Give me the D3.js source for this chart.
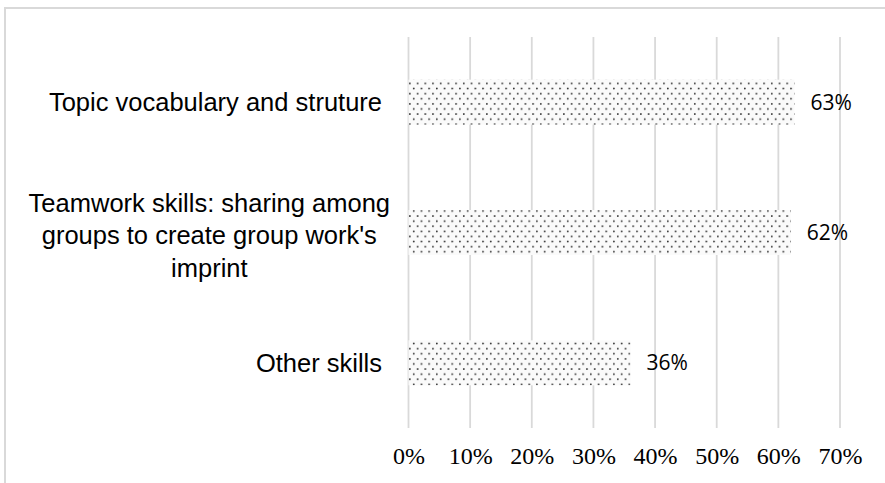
<!DOCTYPE html>
<html><head><meta charset="utf-8">
<script src="https://cdn.jsdelivr.net/npm/d3@7"></script>
<style>html,body{margin:0;padding:0;background:#fff;}svg{display:block;}</style>
</head><body>
<svg id="chart" width="885" height="483"></svg>
<script>
const categories = ["Topic vocabulary and struture", "Teamwork skills: sharing among groups to create group work's imprint", "Other skills"];
const categoryLines = [["Topic vocabulary and struture"], ["Teamwork skills: sharing among", "groups to create group work's", "imprint"], ["Other skills"]];
const values = [0.626, 0.62, 0.36];
const tickValues = [0, 0.1, 0.2, 0.3, 0.4, 0.5, 0.6, 0.7];

const svg = d3.select("#chart");
const W = 885, H = 483;
const m = {left: 408.5, right: 45, top: 37, bottom: 55};

// outer frame
svg.append("rect").attr("x", 5).attr("y", 8).attr("width", W + 20).attr("height", H + 20)
  .attr("fill", "none").attr("stroke", "#d9d9d9").attr("stroke-width", 2);

// pattern
const defs = svg.append("defs");
const pat = defs.append("pattern").attr("id", "dots").attr("patternUnits", "userSpaceOnUse")
  .attr("width", 7.7).attr("height", 10.2);
pat.append("rect").attr("width", 7.7).attr("height", 10.2).attr("fill", "#fafafa");
pat.append("circle").attr("cx", 1.8).attr("cy", 1.8).attr("r", 0.9).attr("fill", "#2e2e2e");
pat.append("circle").attr("cx", 5.65).attr("cy", 6.9).attr("r", 0.9).attr("fill", "#2e2e2e");

const x = d3.scaleLinear().domain([0, 0.7]).range([m.left, W - m.right]);
const y = d3.scaleBand().domain(categories).range([m.top, H - m.bottom]).paddingInner(0.655).paddingOuter(0.3275);

// gridlines
svg.append("g").selectAll("line").data(tickValues).join("line")
  .attr("x1", d => x(d)).attr("x2", d => x(d))
  .attr("y1", m.top).attr("y2", H - m.bottom)
  .attr("stroke", "#d9d9d9").attr("stroke-width", 1.8);

// bars
svg.append("g").selectAll("rect").data(values).join("rect")
  .attr("x", x(0)).attr("y", (d, i) => y(categories[i]))
  .attr("width", d => x(d) - x(0)).attr("height", y.bandwidth())
  .attr("fill", "url(#dots)");

// data labels
svg.append("g").selectAll("text").data(values).join("text")
  .attr("x", d => x(d) + 16).attr("y", (d, i) => y(categories[i]) + y.bandwidth() / 2)
  .attr("dy", "0.36em")
  .attr("font-family", "'Open Sans', sans-serif").attr("font-size", 21).attr("fill", "#000")
  .text(d => d3.format(".0%")(d));

// x axis tick labels
const xAxis = d3.axisBottom(x).tickValues(tickValues).tickFormat(d3.format(".0%")).tickSize(0).tickPadding(0);
const gx = svg.append("g").attr("transform", `translate(0,${H - m.bottom})`).call(xAxis);
gx.select(".domain").remove();
gx.selectAll("text").attr("font-family", "'Liberation Serif', 'Times New Roman', serif")
  .attr("font-size", 24).attr("fill", "#000").attr("y", 0).attr("dy", "36");

// category labels
const catFont = 25.5, lineH = 32.5;
const gc = svg.append("g").attr("font-family", "'Liberation Sans', Arial, sans-serif").attr("font-size", catFont).attr("fill", "#000");
categoryLines.forEach((lines, i) => {
  const n = lines.length;
  const cy = y(categories[i]) + y.bandwidth() / 2 + (n > 1 ? 3 : 0);
  const t = gc.append("text");
  lines.forEach((ln, j) => {
    t.append("tspan").attr("y", cy + (j - (n - 1) / 2) * lineH).attr("dy", "0.35em").text(ln);
  });
  if (n === 1) {
    t.attr("text-anchor", "end").selectAll("tspan").attr("x", 382);
  } else {
    let maxW = 0;
    t.selectAll("tspan").each(function() { maxW = Math.max(maxW, this.getComputedTextLength()); });
    t.attr("text-anchor", "middle").selectAll("tspan").attr("x", 390 - maxW / 2);
  }
});
</script>
</body></html>
